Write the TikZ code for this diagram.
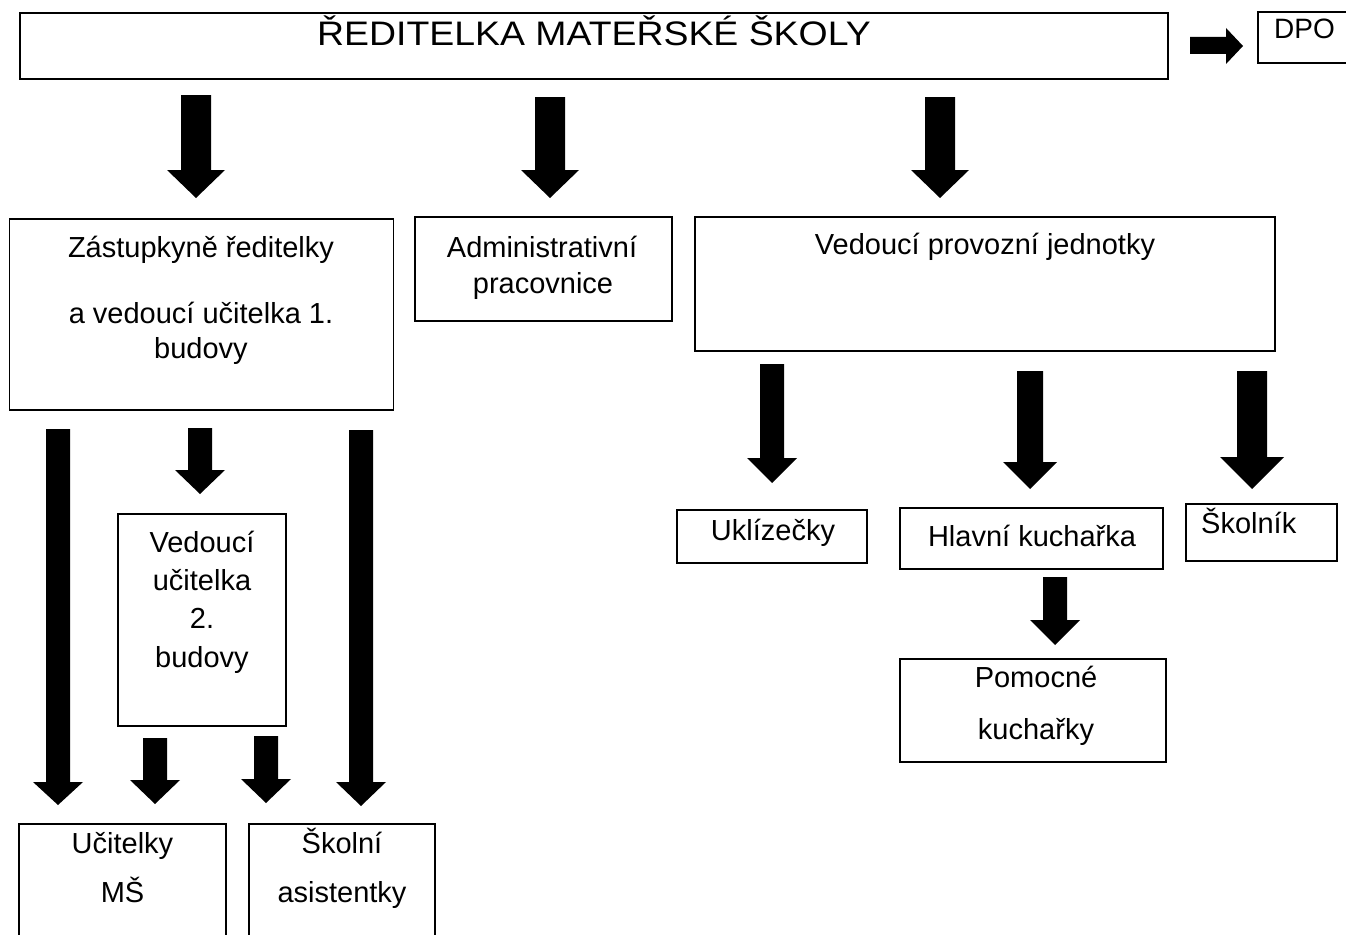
\documentclass[tikz,border=0pt]{standalone}
\usepackage{fontspec}
\setmainfont{Liberation Sans}
\newfontfamily\titlefont[FakeStretch=1.1]{Liberation Sans}
\newcommand\dnarrow[6]{% cx, shaft half, head half, ytop, ybase, ytip
  \fill (#1-#2,#4) -- (#1+#2,#4) -- (#1+#2,#5) -- (#1+#3,#5) -- (#1,#6)
        -- (#1-#3,#5) -- (#1-#2,#5) -- cycle;}
\begin{document}
\begin{tikzpicture}[x=1pt,y=-1pt,
  box/.style={draw, line width=1.6pt, rectangle, inner sep=0pt},
  txt/.style={font=\fontsize{29}{34}\selectfont, inner sep=0pt, anchor=base},
  txtw/.style={font=\fontsize{29}{34}\selectfont, inner sep=0pt, anchor=base west}]
\useasboundingbox[fill=white] (0,0) rectangle (1346,934);

% boxes
\node[box, minimum width=1148, minimum height=66] (title) at (594,46) {};
\node[box, minimum width=94, minimum height=51] (dpo) at (1305,37.5) {};
\node[box, minimum width=384, minimum height=191] (zast) at (201.5,314.5) {};
\node[box, minimum width=257, minimum height=104] (admin) at (543.5,269) {};
\node[box, minimum width=580, minimum height=134] (vedprov) at (985,284) {};
\node[box, minimum width=168, minimum height=212] (vu2) at (202,620) {};
\node[box, minimum width=207, minimum height=126] (ucit) at (122.5,887) {};
\node[box, minimum width=186, minimum height=126] (asist) at (342,887) {};
\node[box, minimum width=190, minimum height=53] (ukl) at (772,536.5) {};
\node[box, minimum width=263, minimum height=61] (hlav) at (1031.5,538.5) {};
\node[box, minimum width=151, minimum height=57] (skol) at (1261.5,532.5) {};
\node[box, minimum width=266, minimum height=103] (pom) at (1033,710.5) {};

% texts
\node[anchor=base, inner sep=0pt] (titletxt) at (594,46)
  {\titlefont\fontsize{34}{40}\selectfont ŘEDITELKA MATEŘSKÉ ŠKOLY};
\node[anchor=base west, inner sep=0pt, font=\fontsize{28}{32}\selectfont] (dpotxt) at (1274,39) {DPO};
\node[txt] (zast1) at (201,257) {Zástupkyně ředitelky};
\node[txt] (zast2) at (201,323) {a vedoucí učitelka 1.};
\node[txt] (zast3) at (201,358) {budovy};
\node[txt] (admin1) at (542,257) {Administrativní};
\node[txt] (admin2) at (543,293) {pracovnice};
\node[txt] (vedprov1) at (985,254) {Vedoucí provozní jednotky};
\node[txt] (vu21) at (202,552) {Vedoucí};
\node[txt] (vu22) at (202,590) {učitelka};
\node[txt] (vu23) at (202,628) {2.};
\node[txt] (vu24) at (202,667) {budovy};
\node[txt] (ucit1) at (122.5,853) {Učitelky};
\node[txt] (ucit2) at (122.5,902) {MŠ};
\node[txt] (asist1) at (342,853) {Školní};
\node[txt] (asist2) at (342,902) {asistentky};
\node[txt] (ukl1) at (773,540) {Uklízečky};
\node[txt] (hlav1) at (1032,546) {Hlavní kuchařka};
\node[txtw] (skol1) at (1201,533) {Školník};
\node[txt] (pom1) at (1036,687) {Pomocné};
\node[txt] (pom2) at (1036,739) {kuchařky};

% block arrows
\fill (1190,37) -- (1226,37) -- (1226,28) -- (1243,46) -- (1226,64) -- (1226,54) -- (1190,54) -- cycle;
\dnarrow{196}{15}{29}{95}{170}{198}
\dnarrow{550}{15}{29}{97}{170}{198}
\dnarrow{940}{15}{29}{97}{170}{198}
\dnarrow{58}{12}{25}{429}{782}{805}
\dnarrow{200}{12}{25}{428}{470}{494}
\dnarrow{361}{12}{25}{430}{782}{806}
\dnarrow{155}{12}{25}{738}{780}{804}
\dnarrow{266}{12}{25}{736}{779}{803}
\dnarrow{772}{12}{25}{364}{458}{483}
\dnarrow{1030}{13}{27}{371}{462}{489}
\dnarrow{1252}{15}{32}{371}{457}{489}
\dnarrow{1055}{12}{25}{577}{620}{645}
\end{tikzpicture}
\end{document}
